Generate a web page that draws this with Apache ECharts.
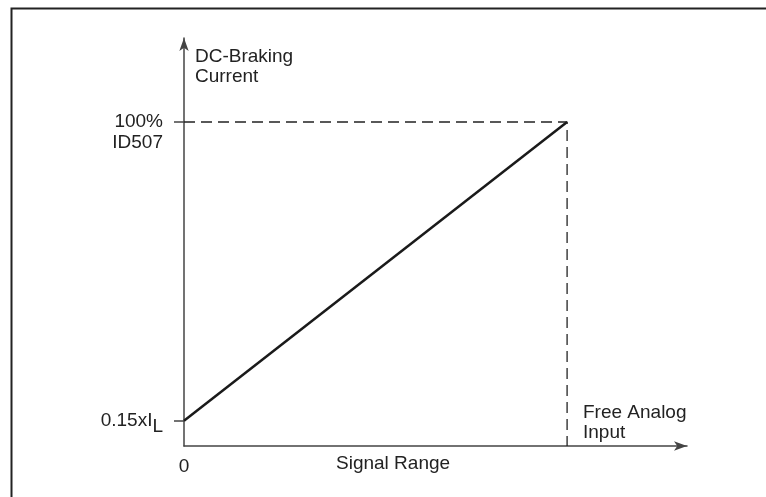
<!DOCTYPE html>
<html><head><meta charset="utf-8">
<script src="https://cdn.jsdelivr.net/npm/echarts@6/dist/echarts.min.js"></script>
<style>html,body{margin:0;padding:0;background:#fff}#c{width:766px;height:497px}</style>
</head><body><div id="c"></div>
<script>
// Data
const signal = [0, 1];              // signal range (0 .. full scale)
const current = [0.15, 1.0];        // DC-braking current (0.15xIL .. 100% ID507)
const yTicks = [0.15, 1.0];
const yTickLabels = ['0.15xI_L', '100%\nID507'];
const xTicks = [0];
const xTickLabels = ['0'];
const xMax = 1.313, yMin = 0.078, yMax = 1.239;

const FONT = 'Liberation Sans, Arial, sans-serif';
const FS = 19;
const chart = echarts.init(document.getElementById('c'));
chart.setOption({
  animation: false,
  backgroundColor: '#fff',
  grid: {left: 184, right: 79, top: 38, bottom: 51},
  xAxis: {
    type: 'value', min: 0, max: xMax,
    splitLine: {show: false},
    axisLine: {show: true, lineStyle: {color: '#444', width: 1.5}, symbol: ['none', 'arrow'], symbolSize: [7, 13]},
    axisTick: {show: false},
    axisLabel: {customValues: xTicks, formatter: v => xTickLabels[xTicks.indexOf(v)], color: '#222', fontSize: FS, fontFamily: FONT, margin: 11}
  },
  yAxis: {
    type: 'value', min: yMin, max: yMax,
    splitLine: {show: false},
    axisLine: {show: true, lineStyle: {color: '#444', width: 1.5}, symbol: ['none', 'arrow'], symbolSize: [7, 13]},
    axisTick: {show: true, customValues: yTicks, length: 10, inside: false, lineStyle: {color: '#444', width: 1.5}},
    axisLabel: {
      customValues: yTicks, margin: 21, color: '#222', fontSize: FS, fontFamily: FONT, lineHeight: 21,
      formatter: v => {
        const s = yTickLabels[yTicks.indexOf(v)];
        if (s.indexOf('_') >= 0) { const p = s.split('_'); return '{t|' + p[0] + '}{s|' + p[1] + '}'; }
        return '\n' + s;
      },
      rich: {
        t: {fontSize: FS, fontFamily: FONT, color: '#222', lineHeight: 21},
        s: {fontSize: FS, fontFamily: FONT, color: '#222', padding: [12, 0, 0, 0]}
      }
    }
  },
  series: [
    {type: 'line', data: signal.map((x, i) => [x, current[i]]), symbol: 'none',
     lineStyle: {color: '#1a1a1a', width: 2.5}},
    {type: 'line', data: [[signal[0], current[1]], [signal[1], current[1]], [signal[1], yMin]], symbol: 'none',
     lineStyle: {color: '#222', width: 1.3, type: [11, 6]}}
  ],
  graphic: [
    {type: 'polyline', shape: {points: [[11.5, 497], [11.5, 8.5], [766, 8.5]]}, style: {stroke: '#222', lineWidth: 2, fill: null}},
    {type: 'text', left: 195, top: 47, style: {text: 'DC-Braking\nCurrent', fontSize: FS, lineHeight: 20, fontFamily: FONT, fill: '#222'}},
    {type: 'text', left: 583, top: 403, style: {text: 'Free Analog\nInput', fontSize: FS, lineHeight: 20, fontFamily: FONT, fill: '#222'}},
    {type: 'text', left: 336, top: 454, style: {text: 'Signal Range', fontSize: FS, fontFamily: FONT, fill: '#222'}}
  ]
});
</script></body></html>
